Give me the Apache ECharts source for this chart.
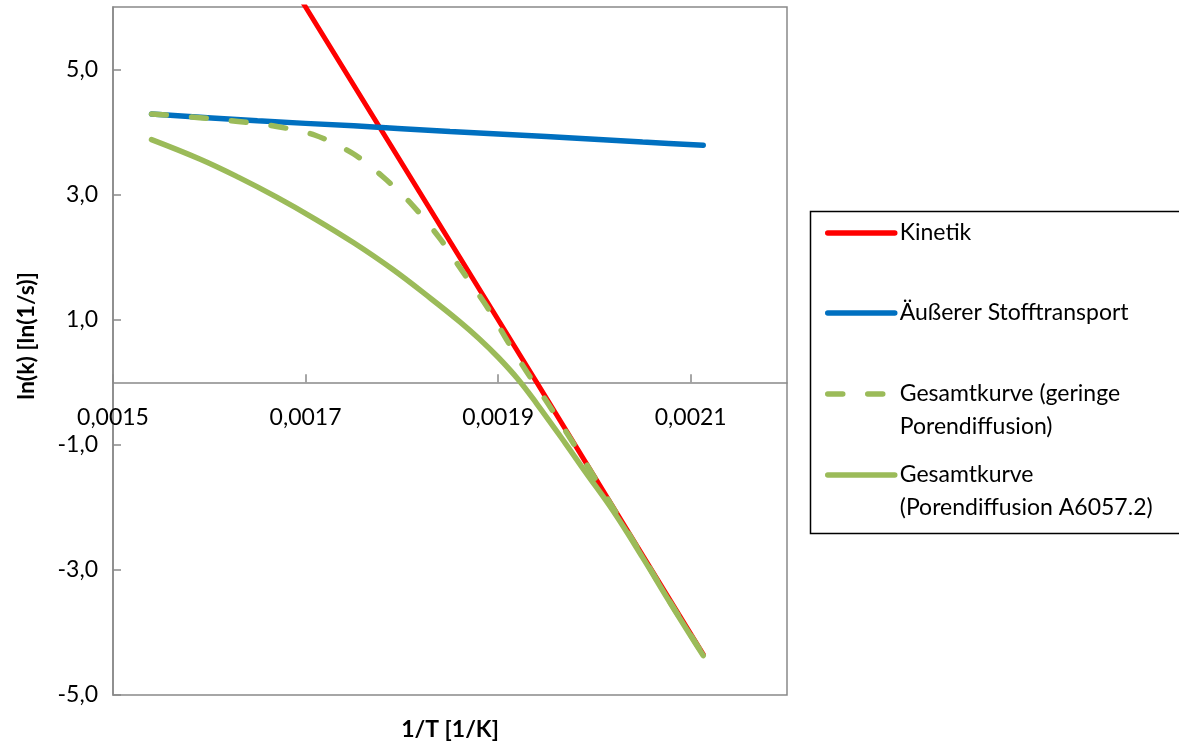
<!DOCTYPE html>
<html><head><meta charset="utf-8">
<script src="https://cdn.jsdelivr.net/npm/echarts@6/dist/echarts.min.js"></script>
<style>html,body{margin:0;padding:0;background:#fff}#c{width:1179px;height:746px}</style>
</head><body><div id="c"></div>
<script>
// ---- data ----
const seriesNames = ['Kinetik', 'Äußerer Stofftransport', 'Gesamtkurve (geringe Porendiffusion)', 'Gesamtkurve (Porendiffusion A6057.2)'];
const legendLabels = ['Kinetik', 'Äußerer Stofftransport', '\nGesamtkurve (geringe\nPorendiffusion)', '\nGesamtkurve\n(Porendiffusion A6057.2)'];

const kinetikX = [0.00154, 0.0017, 0.00194, 0.002113];
const kinetikY = [10.0, 6.0, 0.0, -4.35];

const stoffX = [0.00154, 0.00165, 0.00175, 0.00185, 0.00195, 0.00205, 0.002113];
const stoffY = [4.29, 4.18, 4.10, 4.01, 3.93, 3.84, 3.79];

const geringX = [0.00154, 0.00159, 0.00163, 0.00167, 0.00171, 0.00175, 0.00178, 0.00181, 0.00184, 0.00186, 0.00189, 0.00191, 0.00193, 0.00195, 0.00198, 0.00201, 0.00205, 0.00208, 0.002113];
const geringY = [4.29, 4.23, 4.17, 4.09, 3.95, 3.65, 3.29, 2.85, 2.29, 1.84, 1.17, 0.65, 0.16, -0.30, -1.02, -1.77, -2.78, -3.55, -4.36];

const poreX = [0.00154, 0.00159, 0.00163, 0.00167, 0.00171, 0.00175, 0.00179, 0.00183, 0.00186, 0.00188, 0.0019, 0.00192, 0.00194, 0.00197, 0.00199, 0.00202, 0.00205, 0.00208, 0.002113];
const poreY = [3.88, 3.57, 3.28, 2.96, 2.61, 2.23, 1.81, 1.34, 0.97, 0.70, 0.40, 0.06, -0.34, -0.98, -1.42, -2.07, -2.80, -3.56, -4.37];

const xTickValues = [0.0015, 0.0017, 0.0019, 0.0021];
const xTickLabels = ['0,0015', '0,0017', '0,0019', '0,0021'];
const yTickValues = [-5, -3, -1, 1, 3, 5];
const yTickLabels = ['-5,0', '-3,0', '-1,0', '1,0', '3,0', '5,0'];

const xTitle = '1/T [1/K]';
const yTitle = 'ln(k) [ln(1/s)]';

// ---- build ----
const FONT = 'Lato';
const zip = (xs, ys) => xs.map((x, i) => [x, ys[i]]);
function lookup(vals, labels, v) {
  for (let i = 0; i < vals.length; i++) if (Math.abs(vals[i] - v) < 1e-9) return labels[i];
  return '';
}

const GRID = {left: 113, top: 7, right: 392, bottom: 51};
const Y_MIN = -5, Y_MAX = 6;
const plotH = 746 - GRID.top - GRID.bottom;
const zeroOffset = -(plotH * (0 - Y_MIN) / (Y_MAX - Y_MIN)); // move x axis onto y = 0

const chart = echarts.init(document.getElementById('c'), null, {renderer: 'canvas'});

const legendTops = [216.5, 296.5, 344.5, 425.5];
const legendDash = [null, null, [15, 25], null];
const legends = seriesNames.map((n, i) => ({
  orient: 'vertical', padding: 0, itemWidth: 67, itemHeight: 14, itemGap: 0,
  selectedMode: false, left: 825, top: legendTops[i],
  data: [{name: n}],
  formatter: () => legendLabels[i],
  itemStyle: {opacity: 0},
  lineStyle: Object.assign({width: 5.5, cap: 'round'}, legendDash[i] ? {type: legendDash[i]} : {}),
  textStyle: {fontFamily: FONT, fontSize: 23, color: '#000', lineHeight: 33}
}));

const option = {
  animation: false,
  backgroundColor: '#fff',
  grid: Object.assign({show: true, borderColor: '#898989', borderWidth: 1.5, backgroundColor: 'transparent'}, GRID),
  legend: legends,
  xAxis: {
    type: 'value', min: 0.0015, max: 0.0022, interval: 0.0002,
    offset: zeroOffset,
    axisLine: {onZero: false, lineStyle: {color: '#898989', width: 1.5}},
    axisTick: {show: true, inside: true, length: 8, lineStyle: {color: '#898989', width: 1.5}},
    axisLabel: {
      showMaxLabel: false, margin: 24, color: '#000', fontFamily: FONT, fontSize: 23,
      formatter: v => lookup(xTickValues, xTickLabels, v)
    },
    splitLine: {show: false}
  },
  yAxis: {
    type: 'value', min: Y_MIN, max: Y_MAX, interval: 2,
    axisLine: {show: true, onZero: false, lineStyle: {color: '#898989', width: 1.5}},
    axisTick: {show: true, inside: true, length: 8, lineStyle: {color: '#898989', width: 1.5}},
    axisLabel: {
      showMaxLabel: false, margin: 15, color: '#000', fontFamily: FONT, fontSize: 23,
      formatter: v => lookup(yTickValues, yTickLabels, v)
    },
    splitLine: {show: false}
  },
  graphic: [
    {type: 'rect', left: 808, top: 209, shape: {width: 380, height: 322}, style: {fill: 'none', stroke: '#000', lineWidth: 1.5}, z: -1},
    {type: 'text', x: 450, y: 730, style: {text: xTitle, font: 'bold 23px ' + FONT, fill: '#000', align: 'center', verticalAlign: 'middle'}},
    {type: 'text', x: 27, y: 336, rotation: Math.PI / 2, style: {text: yTitle, font: 'bold 23px ' + FONT, fill: '#000', align: 'center', verticalAlign: 'middle'}}
  ],
  series: [
    {name: seriesNames[0], type: 'line', data: zip(kinetikX, kinetikY), symbol: 'none', smooth: false,
     lineStyle: {color: '#FF0000', width: 5, cap: 'round'}, itemStyle: {color: '#FF0000'}},
    {name: seriesNames[1], type: 'line', data: zip(stoffX, stoffY), symbol: 'none', smooth: 0.3,
     lineStyle: {color: '#0070C0', width: 5.5, cap: 'round'}, itemStyle: {color: '#0070C0'}},
    {name: seriesNames[2], type: 'line', data: zip(geringX, geringY), symbol: 'none', smooth: 0.3,
     lineStyle: {color: '#9BBB59', width: 5.5, type: [15, 25], cap: 'round'}, itemStyle: {color: '#9BBB59'}},
    {name: seriesNames[3], type: 'line', data: zip(poreX, poreY), symbol: 'none', smooth: 0.4,
     lineStyle: {color: '#9BBB59', width: 5.5, cap: 'round'}, itemStyle: {color: '#9BBB59'}}
  ]
};
chart.setOption(option);
</script>
</body></html>
